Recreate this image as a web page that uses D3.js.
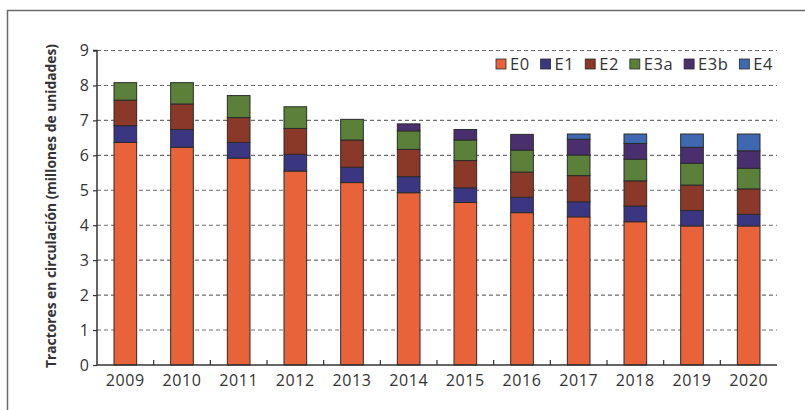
<!DOCTYPE html>
<html><head><meta charset="utf-8">
<script src="https://cdn.jsdelivr.net/npm/d3@7/dist/d3.min.js"></script>
<style>body{margin:0;background:#fff;}svg{display:block;font-family:"Open Sans",sans-serif;}</style>
</head><body>
<svg id="c" width="805" height="410"></svg>
<script>
const years = ["2009","2010","2011","2012","2013","2014","2015","2016","2017","2018","2019","2020"];
const seriesNames = ["E0","E1","E2","E3a","E3b","E4"];
const E0  = [6.37,6.23,5.92,5.55,5.22,4.93,4.65,4.36,4.24,4.10,3.98,3.98];
const E1  = [0.48,0.51,0.45,0.48,0.44,0.46,0.42,0.44,0.43,0.45,0.44,0.33];
const E2  = [0.73,0.73,0.71,0.74,0.78,0.78,0.78,0.72,0.75,0.72,0.73,0.73];
const E3a = [0.50,0.61,0.63,0.62,0.59,0.53,0.59,0.63,0.59,0.62,0.62,0.59];
const E3b = [0.00,0.00,0.00,0.00,0.00,0.20,0.30,0.45,0.45,0.45,0.46,0.50];
const E4  = [0.00,0.00,0.00,0.00,0.00,0.00,0.00,0.00,0.15,0.27,0.38,0.48];
const yTicks = [0,1,2,3,4,5,6,7,8,9];
const colors = ["#e8623a","#3a3682","#8a3828","#5b803a","#4a2f6e","#3e69b0"];

const seriesVals = [E0,E1,E2,E3a,E3b,E4];
const rows = years.map((y,i)=>{const r={year:y}; seriesNames.forEach((s,j)=>r[s]=seriesVals[j][i]); return r;});

const svg = d3.select("#c");
// frame
svg.append("path").attr("d","M7.5,410 V10.5 H805").attr("fill","none").attr("stroke","#6a6a6a").attr("stroke-width",1.5);

const x0 = 97, x1 = 777, yTop = 50.5, yBot = 365;
const x = d3.scaleBand().domain(years).range([x0,x1]).paddingInner(0.6).paddingOuter(0.3);
const y = d3.scaleLinear().domain([0,9]).range([yBot,yTop]);

// grid
svg.append("g").selectAll("line").data(yTicks.filter(t=>t>0)).join("line")
  .attr("x1",x0).attr("x2",x1).attr("y1",d=>y(d)).attr("y2",d=>y(d))
  .attr("stroke","#6e6e6e").attr("stroke-width",1.1).attr("stroke-dasharray","4,3");

// bars
const stack = d3.stack().keys(seriesNames)(rows);
svg.append("g").selectAll("g").data(stack).join("g")
  .attr("fill",(d,i)=>colors[i])
  .selectAll("rect").data(d=>d.filter(p=>p[1]-p[0]>0)).join("rect")
  .attr("x",d=>x(d.data.year)).attr("width",x.bandwidth())
  .attr("y",d=>y(d[1])).attr("height",d=>y(d[0])-y(d[1]))
  .attr("stroke","#2b2b2b").attr("stroke-width",1);

// y axis
const yAxis = d3.axisLeft(y).tickValues(yTicks).tickSize(4).tickPadding(4);
const gy = svg.append("g").attr("transform",`translate(${x0},0)`).call(yAxis);
gy.select(".domain").attr("stroke","#333").attr("stroke-width",1.5).attr("d",`M-4,${yTop}H0V${yBot}`);
gy.selectAll(".tick line").attr("stroke","#333").attr("stroke-width",1.2);
gy.selectAll("text").attr("font-size",16).attr("fill","#333").attr("font-family","Open Sans");

// x axis
const gx = svg.append("g").attr("transform",`translate(0,${yBot})`);
gx.append("line").attr("x1",x0).attr("x2",x1).attr("stroke","#333").attr("stroke-width",1.5);
const step = x.step();
gx.selectAll("line.tk").data(years.slice(1)).join("line").attr("class","tk")
  .attr("x1",d=>x(d)-(step-x.bandwidth())/2).attr("x2",d=>x(d)-(step-x.bandwidth())/2)
  .attr("y1",0).attr("y2",-5).attr("stroke","#333").attr("stroke-width",1.2);
gx.selectAll("text").data(years).join("text")
  .attr("x",d=>x(d)+x.bandwidth()/2).attr("y",21)
  .attr("text-anchor","middle").attr("font-size",16).attr("letter-spacing",0.6).attr("fill","#333").text(d=>d);

// y title
svg.append("text").attr("transform",`translate(56,206) rotate(-90)`)
  .attr("text-anchor","middle").attr("font-size",13.8).attr("font-weight","bold").attr("fill","#333")
  .text("Tractores en circulación (millones de unidades)");

// legend
const lg = svg.append("g");
let lx = 496; const ly = 64;
seriesNames.forEach((s,i)=>{
  lg.append("rect").attr("x",lx).attr("y",ly-5).attr("width",10).attr("height",10)
    .attr("fill",colors[i]).attr("stroke","#2b2b2b").attr("stroke-width",0.8);
  const t = lg.append("text").attr("x",lx+14).attr("y",ly+6).attr("font-size",16.5).attr("letter-spacing",0.5).attr("fill","#333").text(s);
  lx += 14 + t.node().getComputedTextLength() + 11;
});
</script>
</body></html>
